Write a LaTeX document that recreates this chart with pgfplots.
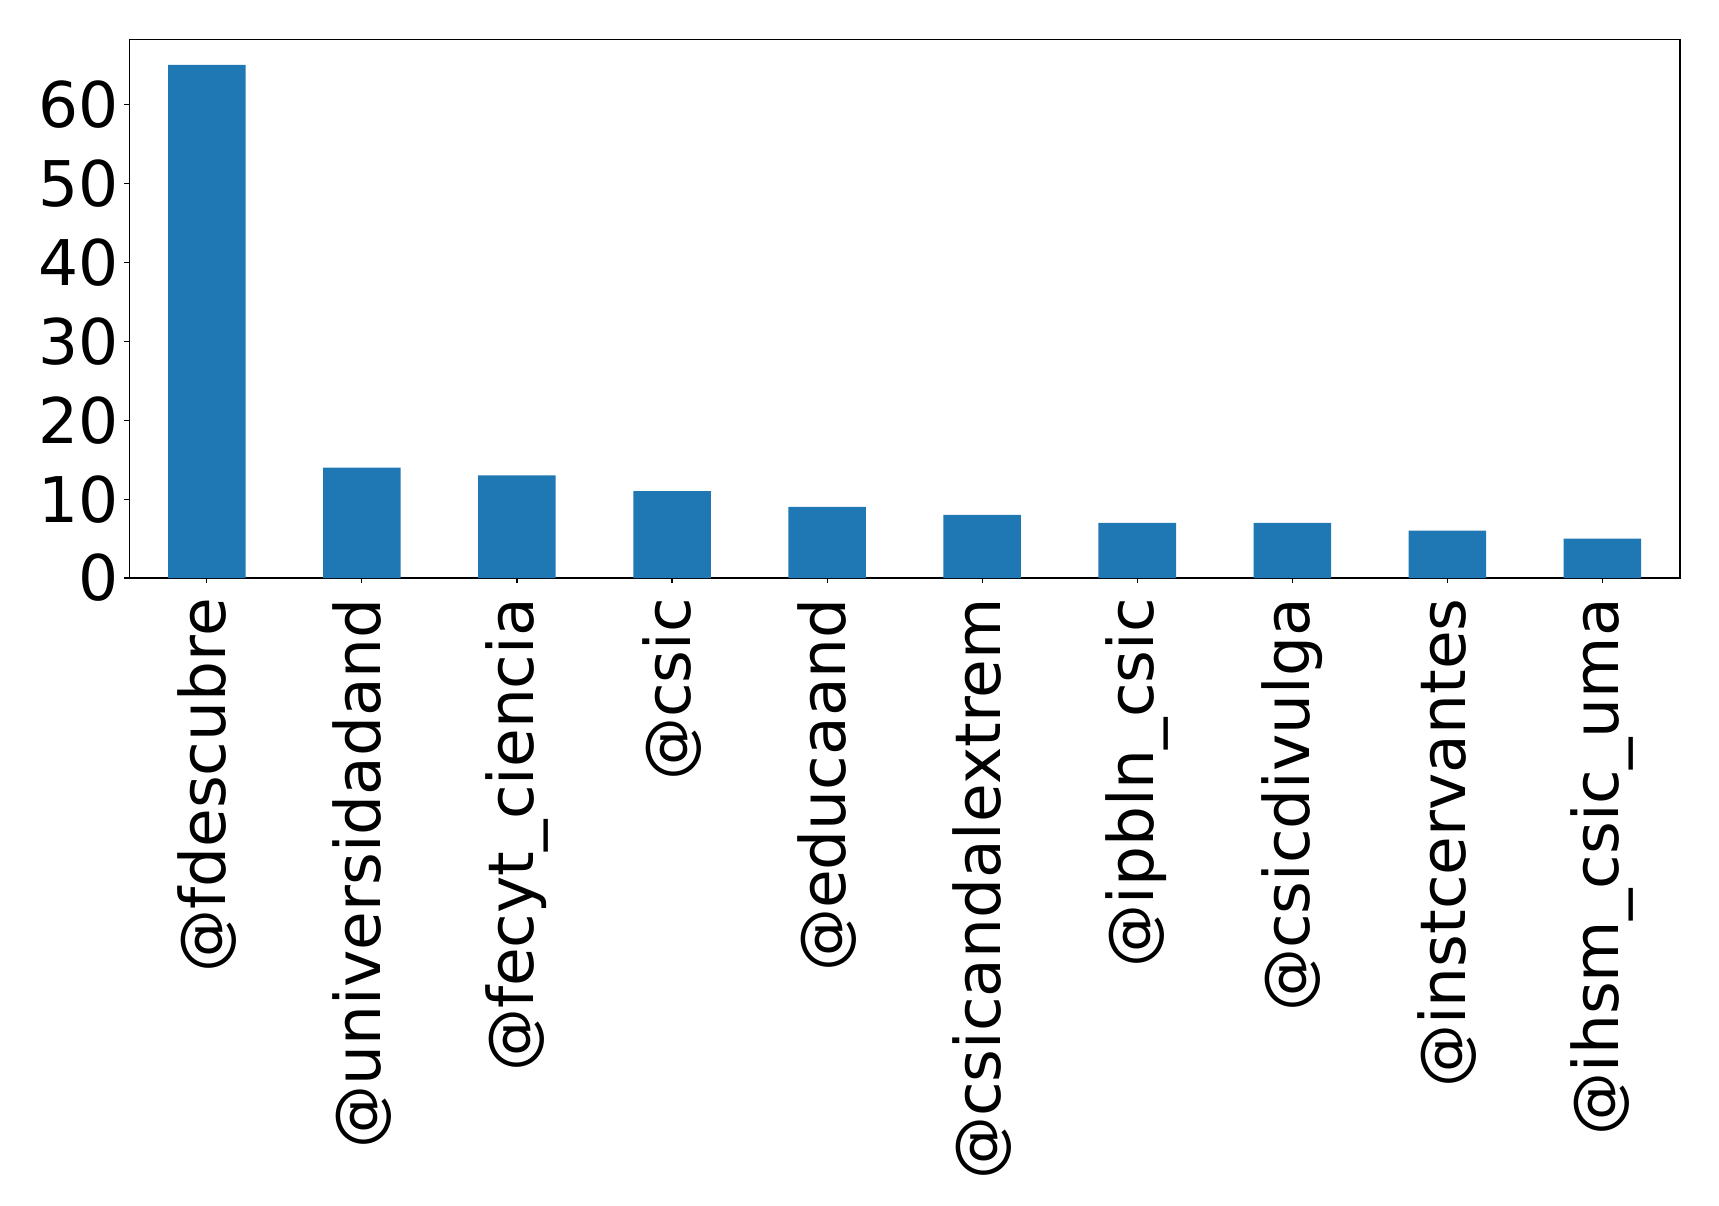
\documentclass[border=0pt]{standalone}
\usepackage{pgfplots}
\pgfplotsset{compat=1.18}
\usepackage{fontspec}
\setmainfont{DejaVu Sans}
\definecolor{mplblue}{HTML}{1F77B4}
\begin{document}
\begin{tikzpicture}
\useasboundingbox (-64.65pt,-313.5pt) rectangle (794.85pt,289pt);
\begin{axis}[
  at={(0pt,0pt)}, anchor=south west,
  scale only axis, width=775.35pt, height=269.35pt,
  xmin=-0.5, xmax=9.5, ymin=0, ymax=68.25,
  axis line style={line width=0.55pt, black},
  xtick={0,...,9},
  xticklabels={@fdescubre,@universidadand,@fecyt\_ciencia,@csic,@educaand,@csicandalextrem,@ipbln\_csic,@csicdivulga,@instcervantes,@ihsm\_csic\_uma},
  ytick={0,10,20,30,40,50,60},
  tick align=outside, tick pos=left,
  major tick length=2.45pt,
  tick style={black, line width=0.55pt},
  font=\fontsize{31.5}{37}\selectfont,
  /pgf/number format/assume math mode=true,
  yticklabel style={inner xsep=2.5pt, inner ysep=0pt, anchor=east},
  xticklabel style={rotate=90, anchor=east, inner xsep=7.5pt, inner ysep=0pt},
]
\addplot[ybar, bar width=0.5, bar shift=0pt, fill=mplblue, draw=none] coordinates {
  (0,65) (1,14) (2,13) (3,11) (4,9) (5,8) (6,7) (7,7) (8,6) (9,5)
};
\end{axis}
\end{tikzpicture}
\end{document}
